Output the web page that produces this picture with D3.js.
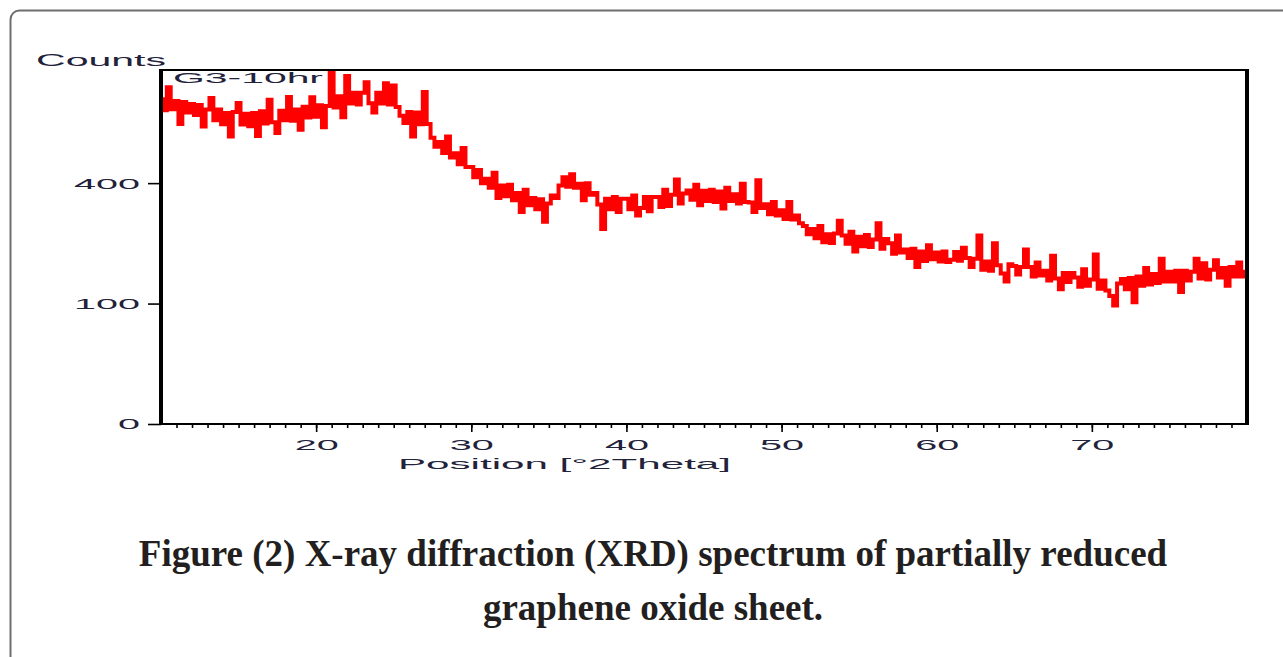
<!DOCTYPE html>
<html>
<head>
<meta charset="utf-8">
<script src="https://cdn.jsdelivr.net/npm/d3@7/dist/d3.min.js"></script>
<style>
  html, body { margin: 0; padding: 0; background: #ffffff; }
  svg { display: block; }
</style>
</head>
<body>
<svg id="chart" width="1283" height="657"></svg>
<script>
// XRD scan: 10–80 °2θ, counts recorded every 0.25°
const scanStart = 10;
const scanStep = 0.25;

// counts, one array per 10° span of the scan
const counts10to20 = [
  727, 679, 782, 683,  719, 620, 715, 669,  706, 658, 702, 610,  682, 733, 636, 682,
  619, 667, 570, 671,  710, 618, 664, 611,  667, 572, 674, 623,  725, 628, 584, 676,
  636, 737, 634, 682,  597, 694, 648, 736
];
const counts20to30 = [
  651, 701, 607, 697,  850, 691, 741, 649,  835, 708, 756, 704,  757, 805, 709, 669,
  756, 708, 800, 704,  790, 693, 655, 625,  671, 570, 669, 619,  760, 620, 565, 530,
  548, 506, 570, 490,  505, 465, 525, 455
];
const counts30to40 = [
  455, 420, 445, 400,  415, 385, 435, 352,  392, 358, 395, 345,  368, 310, 378, 330,
  352, 318, 348, 282,  335, 360, 352, 392,  420, 388, 430, 385,  398, 345, 400, 362,
  368, 332, 262, 350,  318, 355, 310, 350
];
const counts40to50 = [
  350, 318, 360, 300,  322, 355, 312, 355,  355, 325, 378, 328,  362, 412, 335, 366,
  376, 347, 395, 330,  375, 343, 378, 340,  373, 320, 385, 343,  364, 335, 398, 340,
  338, 310, 410, 322,  333, 303, 340, 300
];
const counts50to60 = [
  315, 290, 340, 288,  300, 278, 270, 248,  262, 238, 270, 228,  248, 226, 250, 285,
  245, 224, 255, 205,  242, 218, 246, 216,  235, 278, 212, 236,  225, 200, 245, 203,
  210, 190, 212, 170,  205, 183, 220, 187
];
const counts60to70 = [
  203, 182, 205, 181,  186, 204, 184, 214,  190, 170, 188, 245,  164, 182, 162, 225,
  174, 156, 140, 176,  172, 154, 170, 210,  170, 150, 180, 152,  162, 142, 195, 146,
  125, 157, 139, 157,  148, 130, 165, 132
];
const counts70to80 = [
  144, 198, 126, 142,  123, 113,  97, 136,  145, 125, 147, 102,  150, 132, 168, 134,
  155, 137, 188, 140,  160, 140, 162, 120,  162, 142, 160, 188,  146, 178, 144, 164,
  185, 148, 168, 132,  170, 150, 180, 150,  160
];

const xMajorTicks = [20, 30, 40, 50, 60, 70];
const yTicks = [0, 100, 400];

const sampleName = "G3-10hr";
const yAxisTitle = "Counts";
const xAxisTitle = "Position [°2Theta]";
const captionLines = [
  "Figure (2) X-ray diffraction (XRD) spectrum of partially reduced",
  "graphene oxide sheet."
];

const counts = [].concat(counts10to20, counts20to30, counts30to40, counts40to50,
                         counts50to60, counts60to70, counts70to80);
const scan = counts.map((c, i) => ({ pos: scanStart + i * scanStep, c }));

const svg = d3.select("#chart");

// rounded card outline
svg.append("rect")
  .attr("x", 10.5).attr("y", 10.5)
  .attr("width", 1400).attr("height", 800)
  .attr("rx", 9)
  .attr("fill", "none")
  .attr("stroke", "#6e6e6e")
  .attr("stroke-width", 2);

const plot = { left: 161, right: 1247, top: 70, bottom: 424 };

const x = d3.scaleLinear().domain([10, 80]).range([plot.left, plot.right]);
// square-root intensity axis, as in the diffractometer software
const y = d3.scaleSqrt().domain([0, 864]).range([plot.bottom, plot.top]);

const labelFont = "'Liberation Sans', Arial, sans-serif";
const labelColor = "#22223a";

// diffraction pattern: a heavy step trace, so that each step reads as a
// vertical bar spanning the change between neighbouring readings
const line = d3.line()
  .x(d => x(d.pos))
  .y(d => y(d.c))
  .curve(d3.curveStep);

svg.append("path")
  .datum(scan)
  .attr("d", line)
  .attr("fill", "none")
  .attr("stroke", "#ff0000")
  .attr("stroke-width", 4)
  .attr("stroke-linejoin", "miter");

// x axis: major and minor ticks
const xAxisMinor = d3.axisBottom(x)
  .tickValues(d3.range(11, 80))
  .tickSize(4)
  .tickFormat("");
const gMinor = svg.append("g")
  .attr("transform", `translate(0,${plot.bottom})`)
  .call(xAxisMinor);
gMinor.select(".domain").remove();
gMinor.selectAll(".tick line").attr("stroke", "#000").attr("stroke-width", 1.6);

const xAxis = d3.axisBottom(x)
  .tickValues(xMajorTicks)
  .tickSize(8)
  .tickFormat(d3.format("d"));
const gx = svg.append("g")
  .attr("transform", `translate(0,${plot.bottom})`)
  .call(xAxis);
gx.select(".domain").remove();
gx.selectAll(".tick line").attr("stroke", "#000").attr("stroke-width", 1.6);
gx.selectAll(".tick text")
  .attr("y", 0)
  .attr("dy", null)
  .attr("transform", "translate(0,26)")
  .attr("font-family", labelFont)
  .attr("font-size", 15)
  .attr("fill", labelColor)
  .attr("textLength", 44)
  .attr("lengthAdjust", "spacingAndGlyphs");

// y axis
const yAxis = d3.axisLeft(y)
  .tickValues(yTicks)
  .tickSize(13)
  .tickFormat(d3.format("d"));
const gy = svg.append("g")
  .attr("transform", `translate(${plot.left},0)`)
  .call(yAxis);
gy.select(".domain").remove();
gy.selectAll(".tick line").attr("stroke", "#000").attr("stroke-width", 1.6);
gy.selectAll(".tick text")
  .attr("x", -21)
  .attr("dy", "0.33em")
  .attr("font-family", labelFont)
  .attr("font-size", 15)
  .attr("fill", labelColor)
  .attr("textLength", d => String(d).length * 22)
  .attr("lengthAdjust", "spacingAndGlyphs");

// plot frame
svg.append("line")
  .attr("x1", plot.left).attr("x2", plot.right)
  .attr("y1", plot.top).attr("y2", plot.top)
  .attr("stroke", "#000").attr("stroke-width", 2);
svg.append("line")
  .attr("x1", plot.left).attr("x2", plot.right)
  .attr("y1", plot.bottom).attr("y2", plot.bottom)
  .attr("stroke", "#000").attr("stroke-width", 2);
svg.append("line")
  .attr("x1", plot.left).attr("x2", plot.left)
  .attr("y1", plot.top - 1).attr("y2", plot.bottom + 1)
  .attr("stroke", "#000").attr("stroke-width", 4);
svg.append("line")
  .attr("x1", plot.right).attr("x2", plot.right)
  .attr("y1", plot.top - 1).attr("y2", plot.bottom + 1)
  .attr("stroke", "#000").attr("stroke-width", 4);

// axis titles and sample name
svg.append("text")
  .attr("x", 36).attr("y", 66)
  .attr("font-family", labelFont).attr("font-size", 16)
  .attr("fill", labelColor)
  .attr("textLength", 130).attr("lengthAdjust", "spacingAndGlyphs")
  .text(yAxisTitle);

svg.append("text")
  .attr("x", 173).attr("y", 83)
  .attr("font-family", labelFont).attr("font-size", 15)
  .attr("fill", labelColor)
  .attr("textLength", 150).attr("lengthAdjust", "spacingAndGlyphs")
  .text(sampleName);

svg.append("text")
  .attr("x", 398).attr("y", 469)
  .attr("font-family", labelFont).attr("font-size", 15)
  .attr("fill", labelColor)
  .attr("textLength", 333).attr("lengthAdjust", "spacingAndGlyphs")
  .text(xAxisTitle);

// caption
svg.selectAll("text.caption")
  .data(captionLines)
  .join("text")
  .attr("class", "caption")
  .attr("x", 653)
  .attr("y", (d, i) => 566 + i * 54)
  .attr("text-anchor", "middle")
  .attr("font-family", "'Liberation Serif', 'Times New Roman', serif")
  .attr("font-weight", "bold")
  .attr("font-size", 37)
  .attr("fill", "#231f20")
  .text(d => d);
</script>
</body>
</html>
